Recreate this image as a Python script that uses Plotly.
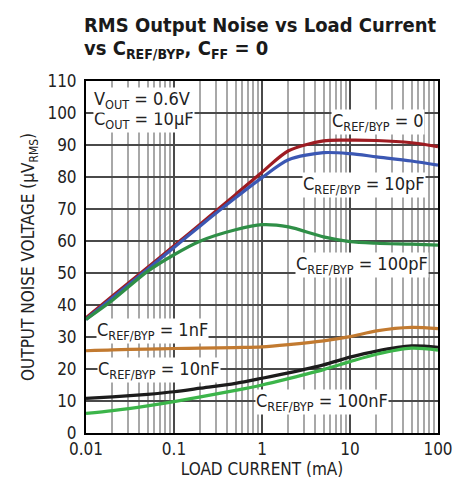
import plotly.graph_objects as go
import math

# ---- data ----
load_ma = [0.01, 0.02, 0.05, 0.1, 0.2, 0.5, 1, 2, 5, 10, 20, 50, 100]
noise_0 = [36.0, 42.8, 51.7, 58.5, 65.3, 74.5, 81.5, 88.2, 91.3, 91.5, 91.4, 90.7, 89.5]
noise_10p = [35.5, 42.3, 51.2, 58.0, 64.8, 73.5, 79.8, 85.4, 87.6, 87.3, 86.3, 85.0, 83.7]
noise_100p = [35.5, 41.5, 50.5, 55.7, 60.0, 63.5, 65.1, 64.4, 61.3, 59.8, 59.3, 59.0, 58.7]
noise_1n = [25.7, 26.0, 26.2, 26.4, 26.5, 26.7, 26.9, 27.6, 28.8, 30.1, 31.9, 33.0, 32.6]
noise_10n = [10.8, 11.3, 12.1, 12.9, 14.0, 15.5, 17.1, 18.8, 21.3, 23.7, 25.6, 27.2, 26.8]
noise_100n = [6.1, 7.0, 8.5, 9.8, 11.3, 13.3, 15.0, 17.0, 19.8, 22.3, 24.6, 26.5, 25.9]

series_names = ["0", "10pF", "100pF", "1nF", "10nF", "100nF"]
series_values = [noise_0, noise_10p, noise_100p, noise_1n, noise_10n, noise_100n]
series_colors = ["#9e1c22", "#3b57b3", "#2f8f47", "#c27a30", "#1c1c1c", "#3cb54a"]

x_tick_vals = [0.01, 0.1, 1, 10, 100]
x_tick_text = ["0.01", "0.1", "1", "10", "100"]
y_tick_vals = list(range(0, 111, 10))

# label placement (x in mA, y in µV)
label_x = [71, 73, 80, 0.0131, 0.0135, 0.826]
label_y = [97.3, 77.6, 52.4, 31.9, 19.8, 9.8]
label_anchor = ["right", "right", "right", "left", "left", "left"]

# condition box lines (drawn bottom line first so the top line sits above it)
cond_lines = ["C<sub>OUT</sub> = 10µF", "V<sub>OUT</sub> = 0.6V"]
cond_px = [119.6, 99.6]  # vertical centres, page px

FONT = "Liberation Sans Narrow, Arial Narrow, DejaVu Sans Condensed, sans-serif"

# plot area occupies page px 86..438 (x) and 81..433 (y); page has an 8px body margin
def py(px):
    return (433 - px) / 352

fig = go.Figure()
for name, vals, col in zip(series_names, series_values, series_colors):
    fig.add_trace(go.Scatter(
        x=load_ma, y=vals, mode="lines", name=name,
        line=dict(color=col, width=3.2, shape="spline", smoothing=0.8),
        showlegend=False, hoverinfo="skip"))

for name, lx, ly, anc in zip(series_names, label_x, label_y, label_anchor):
    fig.add_annotation(
        x=math.log10(lx), y=ly, xref="x", yref="y",
        text=f"C<sub>REF/BYP</sub> = {name}", showarrow=False,
        xanchor=anc, yanchor="middle",
        font=dict(family=FONT, size=18, color="#222"),
        bgcolor="white", borderpad=0)

for txt, p in zip(cond_lines, cond_px):
    fig.add_annotation(
        x=math.log10(0.0121), y=py(p), xref="x", yref="paper",
        text=txt, showarrow=False, xanchor="left", yanchor="middle",
        font=dict(family=FONT, size=18, color="#222"),
        bgcolor="white", borderpad=0)

# title lines
fig.add_annotation(
    x=-4 / 352, y=py(25), xref="paper", yref="paper",
    text="<b>RMS Output Noise vs Load Current</b>", showarrow=False,
    xanchor="left", yanchor="middle",
    font=dict(family=FONT, size=20, color="#1a1a1a"))
fig.add_annotation(
    x=-4 / 352, y=py(49), xref="paper", yref="paper",
    text="<b>vs C<sub>REF/BYP</sub>, C<sub>FF</sub> = 0</b>", showarrow=False,
    xanchor="left", yanchor="middle",
    font=dict(family=FONT, size=20, color="#1a1a1a"))

fig.update_layout(
    width=458, height=479,
    margin=dict(l=78, r=28, t=73, b=54),
    paper_bgcolor="white", plot_bgcolor="white",
    font=dict(family=FONT, size=17, color="#222"),
)
fig.update_xaxes(
    type="log", range=[-2, 2],
    tickmode="array", tickvals=x_tick_vals, ticktext=x_tick_text,
    showgrid=True, gridcolor="#4a4a4a", gridwidth=1.5,
    minor=dict(dtick="D1", showgrid=True, gridcolor="#a8a8a8", gridwidth=1.5, ticks=""),
    showline=True, linecolor="black", linewidth=2, mirror=True,
    ticks="", zeroline=False, ticklabelstandoff=0,
    title=dict(text="LOAD CURRENT (mA)", font=dict(size=17), standoff=0),
    tickfont=dict(size=17))
fig.update_yaxes(
    range=[0, 110], tickmode="array", tickvals=y_tick_vals,
    showgrid=True, gridcolor="#4a4a4a", gridwidth=1.5,
    showline=True, linecolor="black", linewidth=2, mirror=True,
    ticks="", zeroline=False, ticklabelstandoff=4,
    title=dict(text="OUTPUT NOISE VOLTAGE (µV<sub>RMS</sub>)", font=dict(size=17), standoff=8),
    tickfont=dict(size=17))

fig.write_html("out.html")
